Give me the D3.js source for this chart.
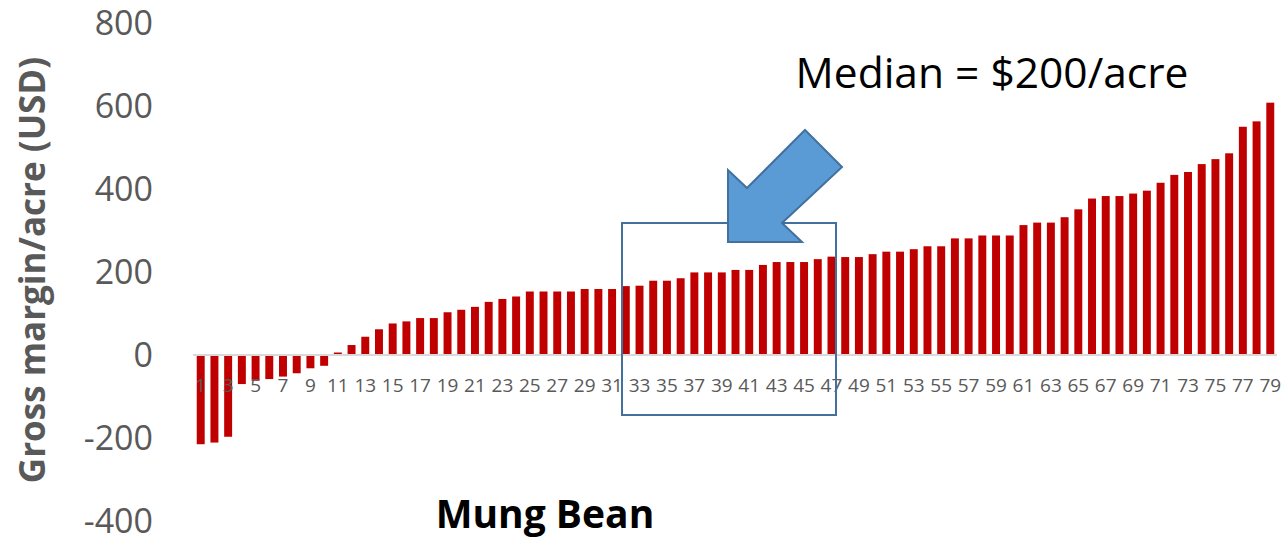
<!DOCTYPE html>
<html>
<head>
<meta charset="utf-8">
<script src="https://cdn.jsdelivr.net/npm/d3@7.9.0/dist/d3.min.js"></script>
<style>
  body { margin: 0; background: #fff; }
  svg { display: block; font-family: "Open Sans", sans-serif; }
</style>
</head>
<body>
<svg width="1283" height="541"></svg>
<script>
// gross margin per acre, sorted, one value per farm (79 farms)
const farms = d3.range(1, 80);
const margins = [
  -215, -211, -197, -70, -62, -58, -52, -44, -32, -26,
  6, 24, 44, 62, 76, 81, 89, 89, 103, 109,
  116, 128, 135, 141, 153, 153, 153, 153, 159, 159,
  159, 166, 167, 179, 179, 185, 199, 199, 199, 205,
  205, 217, 224, 224, 224, 231, 237, 236, 236, 243,
  249, 249, 255, 262, 262, 281, 281, 288, 288, 288,
  313, 319, 319, 332, 351, 377, 383, 383, 389, 396,
  415, 434, 441, 460, 472, 486, 550, 563, 608
];
const yTicks = [-400, -200, 0, 200, 400, 600, 800];

const svg = d3.select('svg');

let x = d3.scaleBand()
  .domain(farms)
  .range([194, 1277])
  .paddingInner(0.42)
  .paddingOuter(0.2);

let y = d3.scaleLinear()
  .domain([-400, 800])
  .range([521, 23]);

// y tick labels (no axis line in the original)
svg.append('g')
  .selectAll('text')
  .data(yTicks)
  .join('text')
  .attr('x', 153)
  .attr('y', (d) => y(d))
  .attr('dy', '0.35em')
  .attr('text-anchor', 'end')
  .attr('font-size', 34)
  .attr('fill', '#595959')
  .text((d) => d);

// bars
svg.append('g')
  .selectAll('rect')
  .data(margins)
  .join('rect')
  .attr('x', (d, i) => x(farms[i]))
  .attr('y', (d) => y(Math.max(0, d)))
  .attr('width', x.bandwidth())
  .attr('height', (d) => Math.abs(y(d) - y(0)))
  .attr('fill', '#c00000');

// zero line
svg.append('line')
  .attr('x1', 193).attr('x2', 1277)
  .attr('y1', y(0)).attr('y2', y(0))
  .attr('stroke', '#d9d9d9')
  .attr('stroke-width', 2);

// x tick labels, every other farm
svg.append('g')
  .selectAll('text')
  .data(farms.filter((d) => d % 2 === 1))
  .join('text')
  .attr('x', (d) => x(d) + x.bandwidth() / 2)
  .attr('y', y(0) + 37)
  .attr('text-anchor', 'middle')
  .attr('font-size', 19)
  .attr('fill', '#595959')
  .text((d) => d);

// axis title
svg.append('text')
  .attr('transform', 'translate(45,270) rotate(-90)')
  .attr('text-anchor', 'middle')
  .attr('font-size', 35)
  .attr('font-weight', 'bold')
  .attr('fill', '#595959')
  .text('Gross margin/acre (USD)');

// box around the median bars
svg.append('rect')
  .attr('x', 622).attr('y', 223)
  .attr('width', 214).attr('height', 192)
  .attr('fill', 'none')
  .attr('stroke', '#41719c')
  .attr('stroke-width', 2);

// block arrow pointing at the box
svg.append('polygon')
  .attr('points', '805,130 842,167 782,223 802,242 728,242 728,170 747,188')
  .attr('fill', '#5b9bd5')
  .attr('stroke', '#41719c')
  .attr('stroke-width', 2);

svg.append('text')
  .attr('x', 992).attr('y', 88)
  .attr('text-anchor', 'middle')
  .attr('font-size', 42.5)
  .attr('fill', '#000')
  .text('Median = $200/acre');

svg.append('text')
  .attr('x', 545).attr('y', 528)
  .attr('text-anchor', 'middle')
  .attr('font-size', 39)
  .attr('font-weight', 'bold')
  .attr('fill', '#000')
  .text('Mung Bean');
</script>
</body>
</html>
